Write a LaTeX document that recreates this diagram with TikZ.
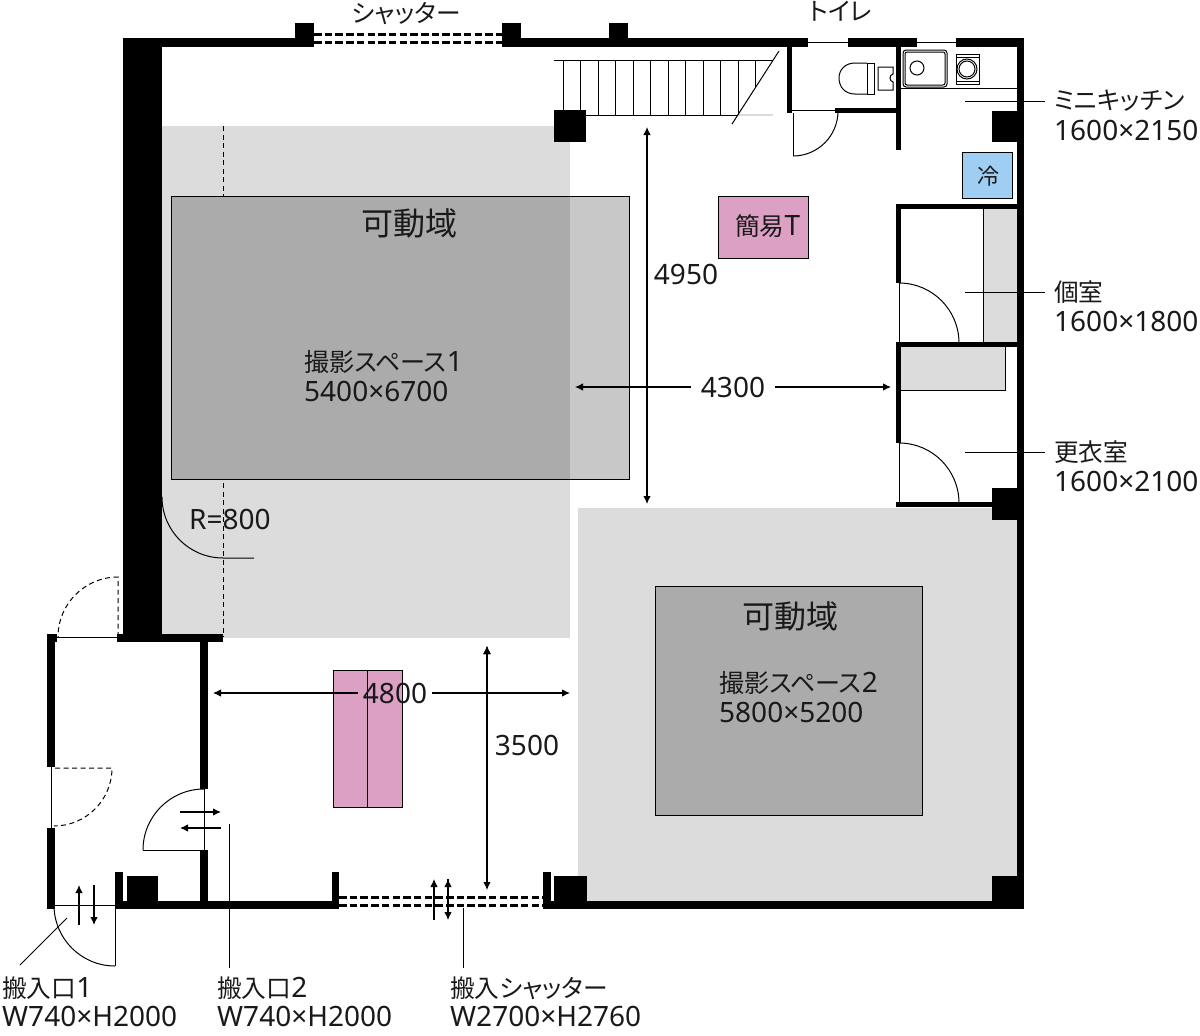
\documentclass[tikz,border=0pt]{standalone}
\usepackage{fontspec}
\setmainfont{Noto Sans}
\newfontfamily\cjkfont[RawFeature={+palt}]{Noto Sans CJK JP}
\newcommand{\jp}[1]{{\cjkfont\fontsize{24.7}{25}\selectfont #1}}
\newcommand{\jpb}[1]{{\cjkfont\fontsize{25.1}{26}\selectfont #1}}
\usetikzlibrary{arrows.meta}
\definecolor{zonegrey}{HTML}{DCDCDC}
\definecolor{spacegrey}{HTML}{ABABAB}
\definecolor{spacepale}{HTML}{C8C8C8}
\definecolor{tablepink}{HTML}{DDA0C5}
\definecolor{fridgeblue}{HTML}{9FCEF2}
\tikzset{
wall/.style={fill=black},
thinline/.style={draw=black,line width=1pt},
fineline/.style={draw=black,line width=1pt},
swing/.style={draw=black,line width=1pt,dash pattern=on 5pt off 3.5pt},
shutterline/.style={draw=black,line width=3pt,dash pattern=on 7.5pt off 3.2pt},
dim/.style={draw=black,line width=1.1pt,-{Latex[length=8pt,width=7.5pt]}},
lbl/.style={anchor=base west,inner sep=0pt,font=\fontsize{28}{30}\selectfont,text=black!90},
dimlbl/.style={inner ysep=0pt,font=\fontsize{28}{30}\selectfont,text=black!90}
}
\begin{document}
\begin{tikzpicture}[x=1pt,y=1pt,yscale=-1]
\useasboundingbox (0,0) rectangle (1200,1036);
% zones
\fill[zonegrey] (162,126) rectangle (570,638);
\fill[zonegrey] (578,508) rectangle (1017,901);
\fill[zonegrey] (983,209) rectangle (1017,342);
\fill[zonegrey] (901,347) rectangle (1005,390);
\draw[swing] (223,126) -- (223,637);
% shooting spaces
\fill[spacegrey] (171,196) rectangle (570,479);
\fill[spacepale] (570,196) rectangle (629,479);
\draw[fineline] (171,196) rectangle (629,479);
\draw[fineline,fill=spacegrey] (655,586) rectangle (922,815);
% tables and fridge
\draw[fineline,fill=tablepink] (718,196) rectangle (808,258);
\draw[fineline,fill=tablepink] (333,670) rectangle (402,807);
\draw[fineline] (367,670) -- (367,807);
\draw[fineline,fill=fridgeblue] (962,152) rectangle (1012,198);
% outer walls
\fill[wall] (123,38) rectangle (162,642);
\fill[wall] (117,634) rectangle (223,642);
\fill[wall] (123,38) rectangle (314,47);
\fill[wall] (502,38) rectangle (808,47);
\fill[wall] (848,38) rectangle (917,47);
\fill[wall] (956,38) rectangle (1024,47);
\fill[wall] (1017,38) rectangle (1024,909);
\fill[wall] (543,901) rectangle (1024,909);
\fill[wall] (115,901) rectangle (339,909);
\foreach \x in {295,502,609} {
\fill[wall] (\x,23) rectangle ++(19,20);
}
% columns and stubs
\fill[wall] (554,110) rectangle (586,142);
\fill[wall] (992,111) rectangle (1017,142);
\fill[wall] (992,488) rectangle (1017,520);
\fill[wall] (554,876) rectangle (587,905);
\fill[wall] (992,876) rectangle (1017,905);
\fill[wall] (127,876) rectangle (158,905);
\fill[wall] (543,872) rectangle (551,905);
\fill[wall] (332,872) rectangle (339,905);
\fill[wall] (115,872) rectangle (123,905);
% entrance walls
\fill[wall] (47,634) rectangle (57,642);
\fill[wall] (47,634) rectangle (55,767);
\fill[wall] (47,828) rectangle (55,909);
\fill[wall] (200,642) rectangle (208,789);
\fill[wall] (200,850) rectangle (208,905);
% inner walls
\fill[wall] (787,46) rectangle (792,113);
\fill[wall] (896,46) rectangle (901,150);
\fill[wall] (835,108) rectangle (901,113);
\fill[wall] (896,204) rectangle (1017,209);
\fill[wall] (896,204) rectangle (901,283);
\fill[wall] (896,342) rectangle (1017,347);
\fill[wall] (896,342) rectangle (901,443);
\fill[wall] (896,502) rectangle (992,507);
% shutters
\draw[shutterline] (314,34) -- (502,34);
\draw[shutterline] (314,42) -- (502,42);
\draw[shutterline] (339,897) -- (543,897);
\draw[shutterline] (339,905) -- (543,905);
% windows and doors
\draw[fineline] (808,42) -- (848,42);
\draw[fineline] (917,42) -- (956,42);
\draw[thinline] (792,110) -- (835,110);
\draw[thinline] (793,156) -- (793,113);
\draw[thinline] (793,156) arc[start angle=90,end angle=0,radius=45];
\draw[thinline] (899,283) -- (899,342);
\draw[thinline] (899,283) arc[start angle=-90,end angle=0,radius=60];
\draw[thinline] (899,443) -- (899,502);
\draw[thinline] (899,443) arc[start angle=-90,end angle=0,radius=60];
\draw[thinline] (983,209) -- (983,342);
\draw[thinline] (901,390) -- (1005,390) -- (1005,347);
\draw[thinline] (57,637) -- (118,637);
\draw[swing] (118,637) -- (118,577) arc[start angle=-90,end angle=-180,radius=60];
\draw[thinline] (51,767) -- (51,828);
\draw[swing] (55,768) -- (112,768) arc[start angle=0,end angle=90,radius=58];
\draw[thinline] (204,789) -- (204,850) -- (143,850);
\draw[thinline] (204,789) arc[start angle=-90,end angle=-180,radius=61];
\draw[thinline] (55,905) -- (115,905) -- (115,966);
\draw[thinline] (115,966) arc[start angle=90,end angle=180,radius=61];
% corner radius
\draw[thinline] (162,497) arc[start angle=180,end angle=90,radius=61] -- (254,558);
% stairs
\draw[thinline] (554,60) -- (773,60);
\draw[thinline] (586,115) -- (737,115);
\draw[zonegrey,line width=1.1pt] (737,115) -- (773,115);
\foreach \x in {563,580,598,615,633,650,668,685,703,720,738} {
\draw[thinline] (\x,60) -- (\x,115);
}
\draw[thinline] (755,60) -- (755,87);
\draw[thinline] (732,124) -- (779,51);
% toilet
\draw[fineline] (867,63) -- (855,63) .. controls (845,63) and (839,70) .. (839,78) .. controls (839,87) and (845,94) .. (855,94) -- (867,94);
\draw[fineline] (867,63) rectangle (874,94);
\draw[fineline] (878,67) -- (893,67) -- (893,74) .. controls (889,75) and (889,81) .. (893,82) -- (893,90) -- (878,90) -- cycle;
% kitchen
\draw[fineline,rounded corners=3pt] (903,50) rectangle (947,87);
\draw[fineline,rounded corners=2pt] (905,52) rectangle (945,85);
\draw[fineline] (917,68) circle[radius=7];
\draw[fineline] (956,54) rectangle (979,84);
\draw[fineline] (956,57) -- (979,57);
\draw[fineline] (956,81) -- (979,81);
\draw[fineline] (967,69) circle[radius=10];
\draw[fineline] (967,69) circle[radius=8];
\draw[fineline] (901,88) -- (1017,88);
% dimensions
\coordinate (top4950) at (647,504);
\coordinate (bot4950) at (647,127);
\coordinate (left4300) at (575,387);
\coordinate (right4300) at (891,387);
\coordinate (left4800) at (213,693);
\coordinate (right4800) at (570,693);
\coordinate (top3500) at (487,646);
\coordinate (bot3500) at (487,890);
\node[dimlbl,inner xsep=10pt] (d4300) at (733,387) {4300};
\node[dimlbl,inner xsep=5pt] (d4800) at (395,693) {4800};
\node[dimlbl,inner sep=0pt] (d4950) at (686,274) {4950};
\node[dimlbl,inner sep=0pt] (d3500) at (527,745) {3500};
\path[dim,{Latex[length=8pt,width=7.5pt]}-{Latex[length=8pt,width=7.5pt]}]
(top4950) edge (bot4950)
(top3500) edge (bot3500);
\path[dim]
(d4300) edge (left4300)
(d4300) edge (right4300)
(d4800) edge (left4800)
(d4800) edge (right4800);
% in and out arrows
\coordinate (a1) at (79,925);
\coordinate (a2) at (79,885);
\coordinate (a3) at (94,885);
\coordinate (a4) at (94,925);
\coordinate (b1) at (180,812);
\coordinate (b2) at (221,812);
\coordinate (b3) at (221,828);
\coordinate (b4) at (180,828);
\coordinate (c1) at (434,920);
\coordinate (c2) at (434,879);
\coordinate (c3) at (448,879);
\coordinate (c4) at (448,920);
\path[dim] (a1) edge (a2) (a3) edge (a4) (b1) edge (b2) (b3) edge (b4) (c1) edge (c2) (c3) edge (c4);
% texts
\node[lbl] (shutter) at (352,23) {\jp{シャッター}};
\node[lbl] (toilet) at (809,20) {\jp{トイレ}};
\node[lbl,font=\fontsize{32}{32}\selectfont] (range1) at (361,235) {\cjkfont 可動域};
\node[lbl,font=\fontsize{32}{32}\selectfont] (range2) at (742,628) {\cjkfont 可動域};
\node[lbl] (space1) at (304,371) {\jpb{撮影スペース}1};
\node[lbl] (size1) at (304,401) {5400×6700};
\node[lbl] (space2) at (719,692) {\jpb{撮影スペース}2};
\node[lbl] (size2) at (719,722) {5800×5200};
\node[lbl] (radius) at (189,529) {R=800};
\node[lbl] (simple) at (735,235) {\jp{簡易}T};
\node[lbl] (fridge) at (977,184) {{\cjkfont\fontsize{22}{22}\selectfont 冷}};
\node[lbl] (kitchen) at (1054,109) {\jp{ミニキッチン}};
\node[lbl] (kitchensize) at (1054,140) {1600×2150};
\node[lbl] (room) at (1054,301) {\jp{個室}};
\node[lbl] (roomsize) at (1054,331) {1600×1800};
\node[lbl] (change) at (1054,461) {\jp{更衣室}};
\node[lbl] (changesize) at (1054,491) {1600×2100};
\node[lbl] (door1) at (2,997) {\jp{搬入口}1};
\node[lbl] (door1size) at (2,1026) {W740×H2000};
\node[lbl] (door2) at (217,997) {\jp{搬入口}2};
\node[lbl] (door2size) at (217,1026) {W740×H2000};
\node[lbl] (door3) at (450,997) {\jp{搬入シャッター}};
\node[lbl] (door3size) at (450,1026) {W2700×H2760};
% leaders
\coordinate (kitchenA) at (965,101);
\coordinate (kitchenB) at (1045,101);
\coordinate (roomA) at (965,292);
\coordinate (roomB) at (1045,292);
\coordinate (changeA) at (965,452);
\coordinate (changeB) at (1045,452);
\coordinate (door1A) at (67,918);
\coordinate (door1B) at (20,965);
\coordinate (door2A) at (229,824);
\coordinate (door2B) at (229,968);
\coordinate (door3A) at (463,908);
\coordinate (door3B) at (463,968);
\path[thinline]
(kitchenA) edge (kitchenB)
(roomA) edge (roomB)
(changeA) edge (changeB)
(door1A) edge (door1B)
(door2A) edge (door2B)
(door3A) edge (door3B);
\end{tikzpicture}
\end{document}
